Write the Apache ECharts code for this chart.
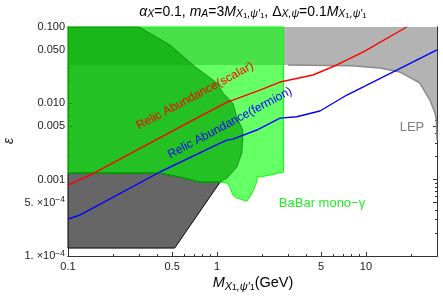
<!DOCTYPE html>
<html><head><meta charset="utf-8">
<script src="https://cdn.jsdelivr.net/npm/echarts@6/dist/echarts.min.js"></script>
<style>html,body{margin:0;padding:0;background:#fff}#c{width:443px;height:300px}</style>
</head><body><div id="c"></div>
<script>
const FONT = '"Liberation Sans", Arial, sans-serif';

// ---- tick values / labels ----
const xMajorTicks = [0.1, 0.5, 1, 5, 10];
const xMajorLabels = ['0.1', '0.5', '1', '5', '10'];
const xMinorTicks = [0.2,0.3,0.4,0.6,0.7,0.8,0.9,2,3,4,6,7,8,9,20,30];
const yMajorTicks = [1e-4, 5e-4, 1e-3, 5e-3, 0.01, 0.05, 0.1];
const yMajorLabels = ['1. \u00d710{sup|\u22124}', '5. \u00d710{sup|\u22124}', '0.001', '0.005', '0.010', '0.050', '0.100'];
const yMinorTicks = [2e-4,3e-4,4e-4,6e-4,7e-4,8e-4,9e-4,2e-3,3e-3,4e-3,6e-3,7e-3,8e-3,9e-3,0.02,0.03,0.04,0.06,0.07,0.08,0.09];

// ---- relic abundance curves ----
const scalarX = [0.1, 0.1406, 0.69, 1.17, 1.28, 1.94, 2.65, 4.41, 6.38, 9.55, 18.8];
const scalarY = [8.5e-4, 1.15e-3, 6.04e-3, 0.0104, 0.0110, 0.0149, 0.0190, 0.0235, 0.0318, 0.047, 0.1];
const fermionX = [0.1, 0.12, 0.414, 1.05, 1.17, 1.28, 1.85, 2.65, 3.43, 4.91, 7.45, 16.1, 30];
const fermionY = [3.05e-4, 3.44e-4, 1.26e-3, 3.02e-3, 3.30e-3, 3.40e-3, 4.47e-3, 6.41e-3, 6.67e-3, 7.93e-3, 0.01285, 0.0273, 0.050];

// ---- LEP excluded region (boundary, top is the plot top) ----
const lepX = [0.1, 3, 8, 12.4, 16.9, 20, 23, 26.9, 29.1, 29.7, 30];
const lepY = [0.0318, 0.0318, 0.031, 0.029, 0.0257, 0.0215, 0.01846, 0.011, 0.00747, 0.006, 0.0033];
const lepTop = 0.1;

// ---- BaBar mono-gamma region ----
const babarX = [0.1, 2.8, 2.8, 2.27, 1.94, 1.87, 1.83, 1.72, 1.59, 1.36, 1.28, 1.22, 1.17, 1.05, 0.77, 0.565, 0.414, 0.1];
const babarY = [0.1, 0.1, 1.26e-3, 1.15e-3, 1.08e-3, 1.11e-3, 8.75e-4, 6.67e-4, 5.24e-4, 5.74e-4, 6.28e-4, 8.0e-4, 9.0e-4, 9.3e-4, 9.3e-4, 1.08e-3, 1.22e-3, 1.22e-3];

// ---- dark green region ----
const dgX = [0.1, 0.30, 0.484, 0.69, 1.0, 1.10, 1.28, 1.36, 1.49, 1.49, 1.47, 1.36, 1.17, 1.05, 0.77, 0.565, 0.414, 0.1];
const dgY = [0.1, 0.1, 0.058, 0.0318, 0.0185, 0.0136, 0.0100, 6.6e-3, 4.47e-3, 3.3e-3, 2.23e-3, 1.46e-3, 1.05e-3, 9.3e-4, 9.3e-4, 1.08e-3, 1.22e-3, 1.22e-3];

// ---- dark gray region ----
const grayX = [0.1, 0.52, 1.05, 0.77, 0.565, 0.414, 0.1];
const grayY = [1.27e-4, 1.27e-4, 9.3e-4, 9.3e-4, 1.08e-3, 1.22e-3, 1.22e-3];

const zip = (xs, ys) => xs.map((x, i) => [x, ys[i]]);

function polySeries(pts, style, z) {
  return {
    type: 'custom', xAxisIndex: 0, yAxisIndex: 0, data: pts, z: z, silent: true,
    renderItem: function (params, api) {
      if (params.dataIndex !== 0) return null;
      return { type: 'polygon', shape: { points: pts.map(p => api.coord(p)) }, style: style };
    }
  };
}

const lepPoly = [[lepX[0], lepTop], [lepX[lepX.length-1], lepTop]].concat(zip(lepX, lepY).reverse());
const lepEdge = zip(lepX, lepY).filter(p => p[0] >= 2.8);

function labelFmt(ticks, labels) {
  return function (v) {
    for (let i = 0; i < ticks.length; i++) if (Math.abs(Math.log10(v / ticks[i])) < 1e-6) return labels[i];
    return '';
  };
}

const axisLineStyle = { color: '#333', width: 1 };
function xAx(pos, major, showLabel) {
  return {
    type: 'log', logBase: 10, min: 0.1, max: 30, position: pos,
    axisLine: { show: true, lineStyle: axisLineStyle },
    splitLine: { show: false },
    axisTick: { show: true, inside: true, length: major ? 4 : 2, lineStyle: { color: '#333' },
      customValues: major ? xMajorTicks : xMinorTicks },
    axisLabel: { show: showLabel, customValues: xMajorTicks, formatter: labelFmt(xMajorTicks, xMajorLabels),
      fontFamily: FONT, fontSize: 11, color: '#222', margin: 5 }
  };
}
function yAx(pos, major, showLabel) {
  return {
    type: 'log', logBase: 10, min: 1e-4, max: 0.1, position: pos,
    axisLine: { show: true, lineStyle: axisLineStyle },
    splitLine: { show: false },
    axisTick: { show: true, inside: true, length: major ? 4 : 2, lineStyle: { color: '#333' },
      customValues: major ? yMajorTicks : yMinorTicks },
    axisLabel: { show: showLabel, customValues: yMajorTicks, formatter: labelFmt(yMajorTicks, yMajorLabels),
      fontFamily: FONT, fontSize: 11, color: '#222', margin: 3, lineHeight: 14,
      rich: { sup: { fontSize: 8.5, fontFamily: FONT, color: '#222', lineHeight: 6, verticalAlign: 'top' } } }
  };
}

function richSet(n, s, ss, lh) {
  return {
    n: { fontFamily: FONT, fontSize: n, color: '#222', lineHeight: lh },
    i: { fontFamily: FONT, fontSize: n, fontStyle: 'italic', color: '#222', lineHeight: lh },
    s: { fontFamily: FONT, fontSize: s, fontStyle: 'italic', color: '#222', lineHeight: lh / 2, verticalAlign: 'bottom' },
    ss: { fontFamily: FONT, fontSize: ss, color: '#222', lineHeight: lh / 4, verticalAlign: 'bottom' }
  };
}
const mSub = '{i|M}{s|X}{ss|1}{s|,\u03c8\u2032}{ss|1}';

const chart = echarts.init(document.getElementById('c'));
chart.setOption({
  animation: false,
  backgroundColor: '#fff',
  grid: { left: 68, right: 6, top: 27, bottom: 44, containLabel: false },
  xAxis: [xAx('bottom', true, true), xAx('bottom', false, false), xAx('top', true, false), xAx('top', false, false)],
  yAxis: [yAx('left', true, true), yAx('left', false, false), yAx('right', true, false), yAx('right', false, false)],
  series: [
    polySeries(zip(grayX, grayY), { fill: '#666666', stroke: '#000', lineWidth: 1 }, 1),
    polySeries(lepPoly, { fill: '#b3b3b3' }, 1),
    { type: 'line', xAxisIndex: 0, yAxisIndex: 0, data: lepEdge, symbol: 'none', silent: true, z: 1,
      lineStyle: { color: '#8a8a8a', width: 1.5 } },
    polySeries(zip(babarX, babarY), { fill: 'rgba(0,255,0,0.6)', stroke: '#00ff00', lineWidth: 1 }, 1),
    polySeries(zip(dgX, dgY), { fill: 'rgba(0,160,0,0.65)', stroke: 'rgba(0,110,0,0.6)', lineWidth: 1 }, 1),
    { type: 'line', xAxisIndex: 0, yAxisIndex: 0, data: zip(scalarX, scalarY), symbol: 'none', silent: true, z: 3,
      lineStyle: { color: '#ff0000', width: 1.4 } },
    { type: 'line', xAxisIndex: 0, yAxisIndex: 0, data: zip(fermionX, fermionY), symbol: 'none', silent: true, z: 3,
      lineStyle: { color: '#0000ff', width: 1.4 } }
  ],
  graphic: [
    { type: 'text', x: 253, y: 12, z: 10, style: {
      text: '{i|\u03b1}{s|X}{n|=0.1, }{i|m}{s|A}{n|=3}' + mSub + '{n|, \u0394}{s|X,\u03c8}{n|=0.1}' + mSub,
      rich: richSet(14, 10.5, 8, 16), align: 'center', verticalAlign: 'middle' } },
    { type: 'text', x: 253, y: 283, z: 10, style: {
      text: mSub + '{n|(GeV)}', rich: richSet(14.5, 11, 8.5, 18), align: 'center', verticalAlign: 'middle' } },
    { type: 'text', x: 9, y: 141, rotation: Math.PI / 2, z: 10, style: {
      text: '\u03b5', font: 'italic 14px ' + FONT, fill: '#222', align: 'center', verticalAlign: 'middle' } },
    { type: 'text', x: 195, y: 96, rotation: 28 * Math.PI / 180, z: 10, style: {
      text: 'Relic Abundance(scalar)', font: '12px ' + FONT, fill: '#ff0000', align: 'center', verticalAlign: 'middle' } },
    { type: 'text', x: 230, y: 123, rotation: 28 * Math.PI / 180, z: 10, style: {
      text: 'Relic Abundance(fermion)', font: '12px ' + FONT, fill: '#0000ff', align: 'center', verticalAlign: 'middle' } },
    { type: 'text', x: 322, y: 203, z: 10, style: {
      text: 'BaBar mono\u2212\u03b3', font: '13px ' + FONT, fill: '#22ee22', align: 'center', verticalAlign: 'middle' } },
    { type: 'text', x: 412, y: 127, z: 10, style: {
      text: 'LEP', font: '13px ' + FONT, fill: '#808080', align: 'center', verticalAlign: 'middle' } }
  ]
});
</script>
</body></html>
